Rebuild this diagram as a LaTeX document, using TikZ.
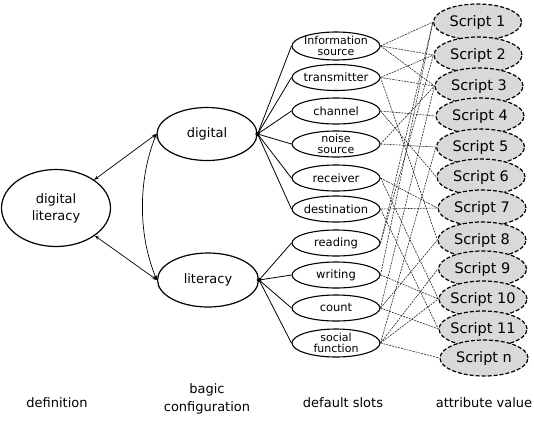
\documentclass[tikz,border=0pt]{standalone}
\usepackage{fontspec}
\setmainfont{DejaVu Sans}
\usetikzlibrary{shapes.geometric,arrows.meta}
\tikzset{
  mainnode/.style={ellipse, draw, line width=1.2pt, inner sep=0pt, align=center,
    font=\fontsize{13}{17}\selectfont},
  slot/.style={ellipse, draw, line width=1.1pt, minimum width=88pt, minimum height=26pt,
    inner sep=-12pt, align=center, font=\fontsize{11.5}{11}\selectfont},
  slottwo/.style={slot, font=\fontsize{11}{10.8}\selectfont},
  script/.style={ellipse, draw, line width=1.2pt, dash pattern=on 4pt off 2pt,
    fill=black!15, minimum width=88pt, minimum height=36pt, inner sep=-12pt,
    font=\fontsize{14.5}{16}\selectfont},
  dotnode/.style={circle, fill=black, inner sep=0pt, minimum size=4.5pt},
  conn/.style={line width=0.8pt},
  biarrow/.style={line width=0.7pt, {Stealth[length=4.5pt,width=3.5pt]}-{Stealth[length=4.5pt,width=3.5pt]}},
  link/.style={line width=0.6pt, black!85, dash pattern=on 2pt off 1pt},
  caption/.style={align=center, font=\fontsize{13}{18}\selectfont}
}
\begin{document}
\begin{tikzpicture}[x=1pt,y=-1pt]
\useasboundingbox (0,0) rectangle (534,423);

% main nodes
\node[mainnode, minimum width=109pt, minimum height=77pt] (dl) at (56,208) {digital\\literacy};
\node[mainnode, minimum width=100pt, minimum height=53pt] (dig) at (207,134) {digital};
\node[mainnode, minimum width=101pt, minimum height=54pt] (lit) at (208,280) {literacy};
\node[dotnode] (ddot) at (dig.east) {};
\node[dotnode] (ldot) at (lit.east) {};

\draw[biarrow] (dl) -- (dig.west);
\draw[biarrow] (dl) -- (lit.west);
\draw[biarrow] (dig.west) .. controls (138,180) and (138,235) .. (lit.west);

% slots
\node[slottwo, minimum height=28pt] (info) at (336,46) {Information\\source};
\node[slot] (trans) at (336,77.5) {transmitter};
\node[slot] (chan) at (336,111) {channel};
\node[slottwo] (noise) at (336,144) {noise\\source};
\node[slot] (recv) at (336,178) {receiver};
\node[slot] (dest) at (336,209) {destination};
\node[slot] (read) at (336,243) {reading};
\node[slot] (writ) at (336,275) {writing};
\node[slot] (count) at (336,308) {count};
\node[slottwo, minimum height=28pt] (soc) at (336,343) {social\\function};

\foreach \s in {info,trans,chan,noise,recv,dest}
  \draw[conn] (ddot.center) -- (\s.west);
\foreach \s in {read,writ,count,soc}
  \draw[conn] (ldot.center) -- (\s.west);

% scripts
\node[script] (s1) at (477.5,22) {Script 1};
\node[script] (s2) at (478,55) {Script 2};
\node[script] (s3) at (479,86) {Script 3};
\node[script] (s4) at (480,116) {Script 4};
\node[script] (s5) at (480.5,147) {Script 5};
\node[script] (s6) at (481,177) {Script 6};
\node[script] (s7) at (482,208) {Script 7};
\node[script] (s8) at (482,240) {Script 8};
\node[script] (s9) at (482.5,269) {Script 9};
\node[script] (s10) at (483,299) {Script 10};
\node[script] (s11) at (483,329) {Script 11};
\node[script] (sn) at (484,358) {Script n};

% dashed links
\foreach \a/\b in {info/s1, info/s2, info/s3,
                   trans/s2, trans/s3, trans/s8,
                   chan/s4, chan/s6,
                   noise/s3, noise/s5,
                   recv/s7, recv/s10,
                   dest/s7, dest/s11,
                   read/s1, read/s2,
                   writ/s1, writ/s10,
                   count/s3, count/s8, count/s11,
                   soc/s5, soc/s9, soc/s10, soc/sn}
  \draw[link] (\a.east) -- (\b.west);

% captions
\node[caption] (c1) at (57,403) {definition};
\node[caption] (c2) at (207,399) {bagic\\configuration};
\node[caption] (c3) at (343,403) {default slots};
\node[caption] (c4) at (484,403) {attribute value};
\end{tikzpicture}
\end{document}
